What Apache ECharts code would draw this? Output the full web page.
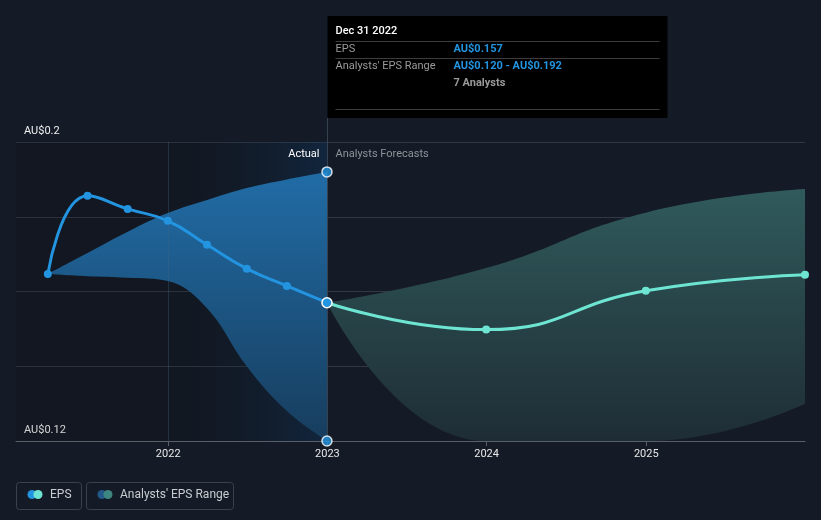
<!DOCTYPE html>
<html><head><meta charset="utf-8">
<script src="https://cdn.jsdelivr.net/npm/echarts@6/dist/echarts.min.js"></script>
<style>html,body{margin:0;padding:0;background:#151b26;} #c{width:821px;height:520px;}</style>
</head><body><div id="c"></div>
<script>
const actualDates = ['2021-03-31','2021-06-30','2021-09-30','2021-12-31','2022-03-31','2022-06-30','2022-09-30','2022-12-31'];
const actualEps = [0.1647,0.1856,0.1821,0.1789,0.1725,0.1661,0.1615,0.157];
const forecastDates = ['2022-12-31','2023-12-31','2024-12-31','2025-12-31'];
const forecastEps = [0.157,0.1498,0.1602,0.1645];
const pastRangeDates = ['2021-03-31','2021-06-30','2021-09-30','2021-12-31','2022-03-31','2022-06-30','2022-09-30','2022-12-31'];
const pastRangeLow = [0.1647,0.1641,0.1637,0.1628,0.1555,0.1400,0.1280,0.120];
const pastRangeHigh = [0.1647,0.1703,0.1760,0.1810,0.1845,0.1877,0.1900,0.192];
const forecastRangeLow = [0.157,0.120,0.120,0.130];
const forecastRangeHigh = [0.157,0.1663,0.1811,0.1874];
const yLabelValues = [0.12, 0.2];
const xMin = '2021-01-17', xMax = '2025-12-31';
const yearStart2022 = '2022-01-01';
const focusDate = '2022-12-31';

const FONT = 'Roboto, "Noto Sans", sans-serif';
const T = s => Date.parse(s + 'T00:00:00Z');
const chart = echarts.init(document.getElementById('c'), null, {renderer:'canvas'});
const zip = (d, v) => d.map((x, i) => [T(x), v[i]]);
const diff = (hi, lo) => hi.map((h, i) => +(h - lo[i]).toFixed(5));
const YEAR = 365 * 24 * 3600 * 1000;

const option = {
  backgroundColor: '#151b26',
  animation: false,
  textStyle: {fontFamily: FONT},
  grid: {left: 16, right: 16, top: 142, bottom: 79},
  xAxis: {
    type: 'time', min: T(xMin), max: T(xMax), minInterval: YEAR, splitNumber: 4,
    axisLine: {lineStyle: {color: '#5a5f67', width: 1}},
    axisTick: {show: true, length: 5, lineStyle: {color: '#5a5f67'}},
    axisLabel: {color: '#e8e8e8', fontSize: 11, margin: 8, fontFamily: FONT,
      showMinLabel: false, showMaxLabel: false,
      formatter: v => String(new Date(v).getUTCFullYear())},
    splitLine: {show: false}
  },
  yAxis: {
    type: 'value', min: 0.12, max: 0.2, interval: 0.02,
    axisLine: {show: false}, axisTick: {show: false},
    splitLine: {lineStyle: {color: '#323843', width: 1}},
    axisLabel: {inside: true, margin: 8, verticalAlign: 'bottom', padding: [0,0,5,0],
      color: '#f0f0f0', fontSize: 11, fontFamily: FONT,
      formatter: v => yLabelValues.some(t => Math.abs(t - v) < 1e-9) ? 'AU$' + (+v.toFixed(3)) : ''}
  },
  series: [
    {
      name: 'pastLow', type: 'line', stack: 'past', smooth: 0.4, symbol: 'none',
      lineStyle: {opacity: 0}, data: zip(pastRangeDates, pastRangeLow), z: 1,
      markArea: {silent: true, data: [
        [{xAxis: T(xMin), itemStyle: {color: 'rgba(0,0,0,0.12)'}}, {xAxis: T(yearStart2022)}],
        [{xAxis: T(yearStart2022), itemStyle: {color: {type:'linear', x:0, y:0, x2:1, y2:0, colorStops:[
          {offset:0, color:'rgba(0,0,0,0.12)'}, {offset:1, color:'rgba(10,60,110,0.32)'}]}}}, {xAxis: T(focusDate)}]
      ]},
      markLine: {silent: true, symbol: 'none', label: {show: false},
        lineStyle: {color: 'rgba(70,100,130,0.35)', width: 1, type: 'solid'},
        data: [{xAxis: T(yearStart2022)}]}
    },
    {
      name: 'pastRange', type: 'line', stack: 'past', smooth: 0.4, symbol: 'none',
      lineStyle: {opacity: 0}, z: 2,
      areaStyle: {opacity: 1, color: {type:'linear', x:0, y:0, x2:0, y2:1, colorStops:[
        {offset:0, color:'#216ca6'}, {offset:1, color:'#173d5d'}]}},
      data: zip(pastRangeDates, diff(pastRangeHigh, pastRangeLow))
    },
    {
      name: 'foreLow', type: 'line', stack: 'fore', smooth: 0.5, symbol: 'none',
      lineStyle: {opacity: 0}, data: zip(forecastDates, forecastRangeLow), z: 1
    },
    {
      name: 'foreRange', type: 'line', stack: 'fore', smooth: 0.5, symbol: 'none',
      lineStyle: {opacity: 0}, z: 2,
      areaStyle: {opacity: 1, color: {type:'linear', x:0, y:0, x2:0, y2:1, colorStops:[
        {offset:0, color:'#305a5b'}, {offset:1, color:'#1e2d35'}]}},
      data: zip(forecastDates, diff(forecastRangeHigh, forecastRangeLow))
    },
    {
      name: 'EPS forecast', type: 'line', smooth: 0.5, symbol: 'circle', symbolSize: 8, z: 4,
      lineStyle: {color: '#6ee5d2', width: 3}, itemStyle: {color: '#6ee5d2'},
      data: zip(forecastDates, forecastEps).map((p, i) => i === 0 ? {value: p, symbolSize: 0} : p)
    },
    {
      name: 'EPS', type: 'line', smooth: 0.5, symbol: 'circle', symbolSize: 8, z: 5,
      lineStyle: {color: '#2394df', width: 3}, itemStyle: {color: '#2394df'},
      data: zip(actualDates, actualEps).map((p, i, a) => i === a.length - 1 ?
        {value: p, symbolSize: 10, itemStyle: {color: '#2394df', borderColor: '#ffffff', borderWidth: 1.5}} : p)
    },
    {
      name: 'rangeEnds', type: 'scatter', symbolSize: 10, z: 6,
      itemStyle: {color: '#2394df', borderColor: '#ffffff', borderWidth: 1.5},
      data: [[T(focusDate), pastRangeHigh[pastRangeHigh.length-1]], [T(focusDate), pastRangeLow[pastRangeLow.length-1]]]
    }
  ]
};
chart.setOption(option);

const p0 = chart.convertToPixel({gridIndex: 0}, [T(focusDate), 0.12]);
const fx = Math.round(p0[0]) + 0.5;
const gridBottom = p0[1];
const tipL = fx, tipT = 16, tipW = 340, tipH = 102;
const g = [];
g.push({type: 'line', z: 3, silent: true, shape: {x1: fx, y1: tipT + tipH, x2: fx, y2: gridBottom},
  style: {stroke: '#36424f', lineWidth: 1}});
g.push({type: 'rect', z: 10, shape: {x: tipL, y: tipT, width: tipW, height: tipH}, style: {fill: '#000000'}});
const tx = tipL + 8, vx = tipL + 126;
const txt = (x, y, s, color, weight, align) => ({type: 'text', z: 11, x: x, y: y,
  style: {text: s, fill: color, font: (weight || 'normal') + ' 11px ' + FONT, textVerticalAlign: 'middle', textAlign: align || 'left'}});
const hl = (y) => ({type: 'line', z: 11, shape: {x1: tx, y1: y, x2: tipL + tipW - 8, y2: y}, style: {stroke: '#3d3d3d', lineWidth: 1}});
g.push(txt(tx, 31, 'Dec 31 2022', '#ffffff', '500'));
g.push(hl(41.5));
g.push(txt(tx, 49, 'EPS', '#9a9a9a'));
g.push(txt(vx, 49, 'AU$0.157', '#2394df', 'bold'));
g.push(hl(58.5));
g.push(txt(tx, 66, "Analysts' EPS Range", '#9a9a9a'));
g.push(txt(vx, 66, 'AU$0.120 - AU$0.192', '#2394df', 'bold'));
g.push(txt(vx, 83, '7 Analysts', '#9a9a9a', 'bold'));
g.push(hl(109.5));
g.push(txt(fx - 8, 154, 'Actual', '#ffffff', 'normal', 'right'));
g.push(txt(fx + 8, 154, 'Analysts Forecasts', '#8e9299', 'normal', 'left'));
const leg = (x, w, c1, c2, label) => {
  g.push({type: 'rect', z: 10, shape: {x: x + 0.5, y: 482.5, width: w, height: 27, r: 3},
    style: {fill: 'none', stroke: '#3c424c', lineWidth: 1}});
  g.push({type: 'circle', z: 11, shape: {cx: x + 16, cy: 494.5, r: 4.5}, style: {fill: c1}});
  g.push({type: 'circle', z: 12, shape: {cx: x + 22, cy: 494.5, r: 4.5}, style: {fill: c2}});
  g.push({type: 'text', z: 11, x: x + 34, y: 495, style: {text: label, fill: '#c9ccd1',
    font: 'normal 12px ' + FONT, textVerticalAlign: 'middle'}});
};
leg(16, 65, '#2394df', '#6ee5d2', 'EPS');
leg(86, 147, '#22588a', '#3e8680', "Analysts' EPS Range");
chart.setOption({graphic: g});
</script></body></html>
